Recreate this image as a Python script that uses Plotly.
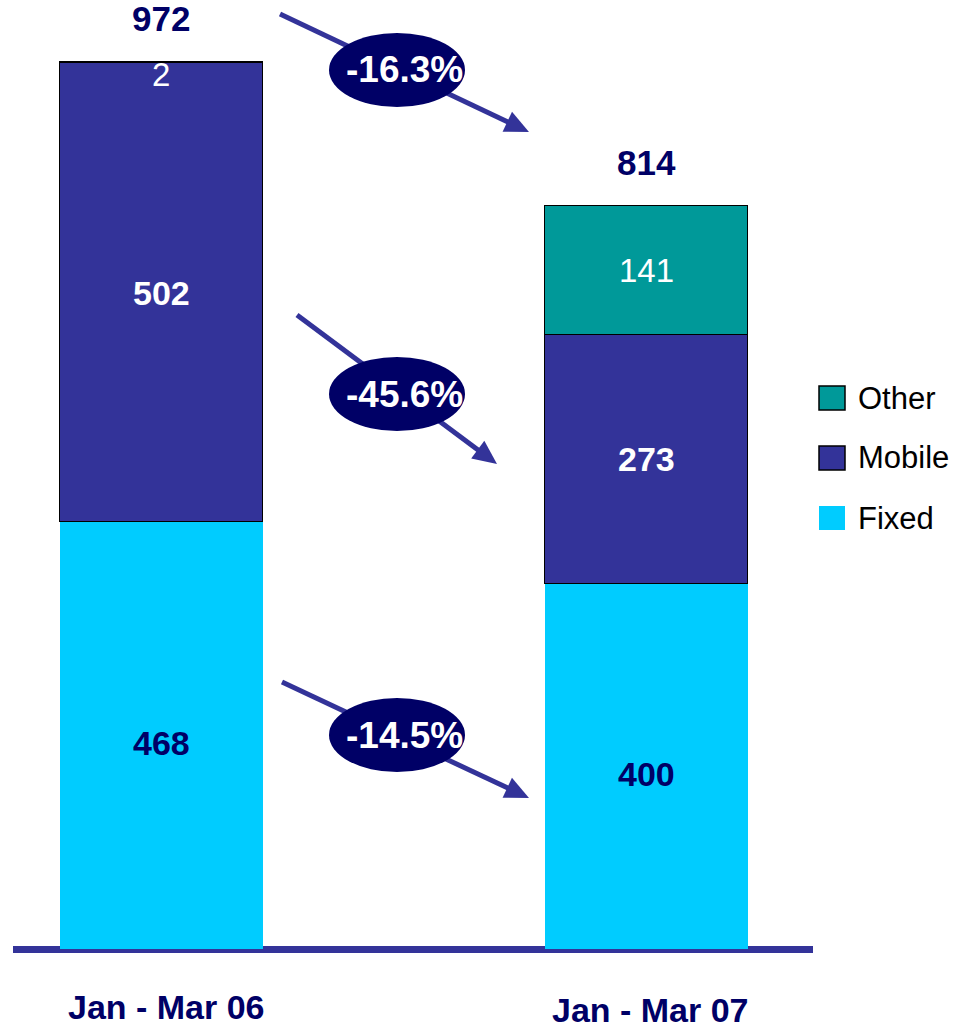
import math
import plotly.graph_objects as go

# ---------------- data ----------------
categories = ["Jan - Mar 06", "Jan - Mar 07"]
fixed = [468, 400]
mobile = [502, 273]
other = [2, 141]
totals = [972, 814]
series_names = ["Fixed", "Mobile", "Other"]
change_labels = ["-16.3%", "-45.6%", "-14.5%"]   # total, mobile, fixed

# ---------------- style ----------------
C_FIXED = "#00CCFF"
C_MOBILE = "#333399"
C_OTHER = "#009999"
NAVY = "#000066"
FONT = "Liberation Sans, Arial, sans-serif"

W, H = 965, 1030
ML, MR, MT, MB = 14, 153, 20, 81
PW, PH = W - ML - MR, H - MT - MB
YMAX = 1017.5
XR = [-0.3044, 1.3426]
BARW = 0.419


def px(xp):
    return (xp - ML) / PW


def py(yp):
    return (H - MB - yp) / PH


fig = go.Figure()
fig.add_trace(go.Bar(x=categories, y=fixed, name="Fixed", width=BARW,
                     marker=dict(color=C_FIXED, line=dict(width=0))))
fig.add_trace(go.Bar(x=categories, y=mobile, name="Mobile", width=BARW,
                     marker=dict(color=C_MOBILE, line=dict(color="#000000", width=1.5))))
fig.add_trace(go.Bar(x=categories, y=other, name="Other", width=BARW,
                     marker=dict(color=C_OTHER, line=dict(color="#000000", width=1.5))))

shapes = []
annotations = []

# baseline axis line (under bars, paper-referenced so it is not clipped)
shapes.append(dict(type="line", xref="paper", yref="paper", x0=px(13), x1=px(813),
                   y0=py(949.5), y1=py(949.5),
                   line=dict(color=C_MOBILE, width=7), layer="below"))

# arrows (drawn before ellipses so the ellipses hide them)
arrows = [((280, 14), (529, 132)), ((297, 315), (497, 464)), ((282, 682), (529, 798))]
HEAD_L, HEAD_W = 24, 11
for (x0, y0), (x1, y1) in arrows:
    dx, dy = x1 - x0, y1 - y0
    L = math.hypot(dx, dy)
    ux, uy = dx / L, dy / L
    bx, by = x1 - ux * HEAD_L, y1 - uy * HEAD_L
    lx, ly = x1 - ux * HEAD_L * 0.6, y1 - uy * HEAD_L * 0.6
    shapes.append(dict(type="line", xref="paper", yref="paper",
                       x0=px(x0), y0=py(y0), x1=px(lx), y1=py(ly),
                       line=dict(color=C_MOBILE, width=5)))
    p1 = (bx - uy * HEAD_W, by + ux * HEAD_W)
    p2 = (bx + uy * HEAD_W, by - ux * HEAD_W)
    path = "M {},{} L {},{} L {},{} Z".format(px(x1), py(y1), px(p1[0]), py(p1[1]),
                                              px(p2[0]), py(p2[1]))
    shapes.append(dict(type="path", xref="paper", yref="paper", path=path,
                       fillcolor=C_MOBILE, line=dict(width=0)))

# ellipses with change labels
ellipses = [(397, 70), (397, 394), (397, 735)]
RX, RY = 68, 37
for (cx, cy), lab in zip(ellipses, change_labels):
    shapes.append(dict(type="circle", xref="paper", yref="paper",
                       x0=px(cx - RX), x1=px(cx + RX), y0=py(cy + RY), y1=py(cy - RY),
                       fillcolor=NAVY, line=dict(width=0)))
    annotations.append(dict(xref="paper", yref="paper", x=px(cx + 7), y=py(cy),
                            text="<b>" + lab + "</b>", showarrow=False,
                            xanchor="center", yanchor="middle",
                            font=dict(family=FONT, size=37, color="white")))

# totals above bars
for c, t in zip(categories, totals):
    annotations.append(dict(x=c, y=t, xref="x", yref="y", text="<b>%d</b>" % t,
                            showarrow=False, yanchor="middle", yshift=43,
                            font=dict(family=FONT, size=35, color=NAVY)))

# segment labels
for i, c in enumerate(categories):
    annotations.append(dict(x=c, y=fixed[i] / 2, xref="x", yref="y",
                            text="<b>%d</b>" % fixed[i], showarrow=False, yshift=-8,
                            font=dict(family=FONT, size=34, color=NAVY)))
    annotations.append(dict(x=c, y=fixed[i] + mobile[i] / 2, xref="x", yref="y",
                            text="<b>%d</b>" % mobile[i], showarrow=False,
                            font=dict(family=FONT, size=34, color="white")))
    if other[i] > 20:
        annotations.append(dict(x=c, y=fixed[i] + mobile[i] + other[i] / 2, xref="x", yref="y",
                                text="%d" % other[i], showarrow=False,
                                font=dict(family=FONT, size=33, color="white")))
    else:
        annotations.append(dict(x=c, y=totals[i], xref="x", yref="y",
                                text="%d" % other[i], showarrow=False,
                                yanchor="middle", yshift=-13,
                                font=dict(family=FONT, size=33, color="white")))

# category labels
cat_pos = [(5, 1007), (4, 1010)]
for c, (xs, yp) in zip(categories, cat_pos):
    annotations.append(dict(x=c, xref="x", y=py(yp), yref="paper", xshift=xs,
                            text="<b>" + c + "</b>", showarrow=False, yanchor="middle",
                            font=dict(family=FONT, size=34, color=NAVY)))

# manual legend
legend_items = [("Other", C_OTHER, True), ("Mobile", C_MOBILE, True), ("Fixed", C_FIXED, False)]
for k, (name, col, border) in enumerate(legend_items):
    cy = 398 + 60 * k
    shapes.append(dict(type="rect", xref="paper", yref="paper",
                       x0=px(819), x1=px(845), y0=py(cy + 12), y1=py(cy - 12),
                       fillcolor=col,
                       line=dict(color="#000000", width=1.5) if border else dict(width=0)))
    annotations.append(dict(xref="paper", yref="paper", x=px(856), y=py(cy),
                            text=name, showarrow=False, xanchor="left", yanchor="middle",
                            font=dict(family=FONT, size=31, color="#000000")))

fig.update_layout(
    barmode="stack",
    width=W, height=H,
    margin=dict(l=ML, r=MR, t=MT, b=MB, pad=0),
    paper_bgcolor="white", plot_bgcolor="white",
    showlegend=False,
    shapes=shapes,
    annotations=annotations,
    xaxis=dict(range=XR, showticklabels=False, showgrid=False, zeroline=False,
               showline=False, ticks="", fixedrange=True),
    yaxis=dict(range=[0, YMAX], visible=False, showgrid=False, zeroline=False,
               fixedrange=True),
    bargap=0,
)

fig.write_html("out.html")
